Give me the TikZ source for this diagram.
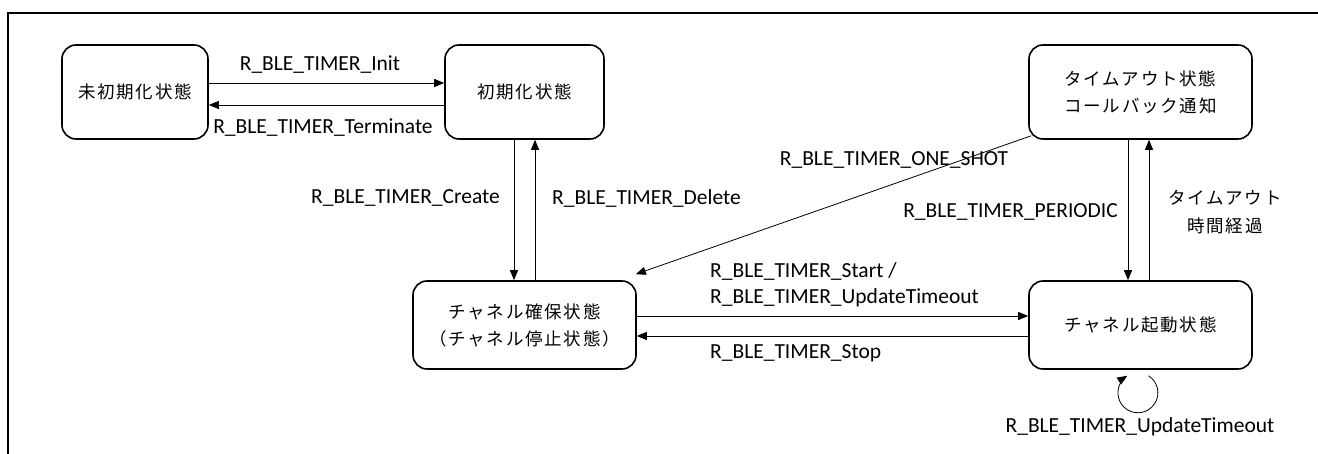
\documentclass[tikz,border=0pt]{standalone}
\usepackage{fontspec}
\setmainfont{Carlito}
\newfontfamily\jp[LetterSpace=10]{Noto Sans CJK JP}
\usetikzlibrary{arrows.meta,calc}
\begin{document}
\begin{tikzpicture}[x=1pt,y=1pt,
  state/.style={draw, line width=1.6pt, rounded corners=14pt, align=center,
    inner sep=0pt, font=\jp\fontsize{17.5}{27}\selectfont},
  conn/.style={line width=0.8pt, -{Triangle[length=10pt,width=8pt]}},
  lbl/.style={inner sep=0pt, font=\fontsize{21.5}{26}\selectfont},
  jlbl/.style={inner sep=0pt, align=center, font=\jp\fontsize{17.5}{28}\selectfont}]
\useasboundingbox (0,0) rectangle (1318,454);
\draw[line width=2pt] (8,0) -- (8,441) -- (1318,441);

\node[state, minimum width=146pt, minimum height=94pt] (A) at (135,362) {未初期化状態};
\node[state, minimum width=159pt, minimum height=94pt] (B) at (524.5,362) {初期化状態};
\node[state, minimum width=223pt, minimum height=94pt] (C) at (1140.5,362) {タイムアウト状態\\コールバック通知};
\node[state, minimum width=223pt, minimum height=88pt] (D) at (524.5,129) {チャネル確保状態\\（チャネル停止状態）};
\node[state, minimum width=223pt, minimum height=88pt] (E) at (1140.5,129) {チャネル起動状態};

% A <-> B
\draw[conn] ([yshift=9pt]A.east) -- ([yshift=9pt]B.west);
\draw[conn] ([yshift=-13pt]B.west) -- ([yshift=-13pt]A.east);
\node[lbl] (lInit) at (320,389) {R\_BLE\_TIMER\_Init};
\node[lbl] (lTerm) at (323,326) {R\_BLE\_TIMER\_Terminate};

% B <-> D
\draw[conn] ([xshift=-10.5pt]B.south) -- ([xshift=-10.5pt]D.north);
\draw[conn] ([xshift=10.5pt]D.north) -- ([xshift=10.5pt]B.south);
\node[lbl, anchor=east] (lCreate) at (500,256) {R\_BLE\_TIMER\_Create};
\node[lbl, anchor=west] (lDelete) at (552,256) {R\_BLE\_TIMER\_Delete};

% C -> D one shot
\draw[conn] ($(C.south west)+(3,4)$) -- ($(D.north east)+(-1,6)$);
\node[lbl] (lOne) at (894,294) {R\_BLE\_TIMER\_ONE\_SHOT};

% C <-> E
\draw[conn] ([xshift=-12.5pt]C.south) -- ([xshift=-12.5pt]E.north);
\draw[conn] ([xshift=8.5pt]E.north) -- ([xshift=8.5pt]C.south);
\node[lbl, anchor=east] (lPer) at (1118,242) {R\_BLE\_TIMER\_PERIODIC};
\node[jlbl] (lTo) at (1225,242) {タイムアウト\\時間経過};

% D <-> E
\draw[conn] ([yshift=9pt]D.east) -- ([yshift=9pt]E.west);
\draw[conn] ([yshift=-11pt]E.west) -- ([yshift=-11pt]D.east);
\node[lbl, anchor=west, align=left] (lStart) at (710,169) {R\_BLE\_TIMER\_Start /\\R\_BLE\_TIMER\_UpdateTimeout};
\node[lbl, anchor=west] (lStop) at (710,101) {R\_BLE\_TIMER\_Stop};

% self loop
\coordinate (ls) at ($(E.south)+(8,-6)$);
\draw[conn] (ls) arc[start angle=58, end angle=-238, radius=20pt];
\node[lbl] (lUpd) at (1140,27) {R\_BLE\_TIMER\_UpdateTimeout};
\end{tikzpicture}
\end{document}
